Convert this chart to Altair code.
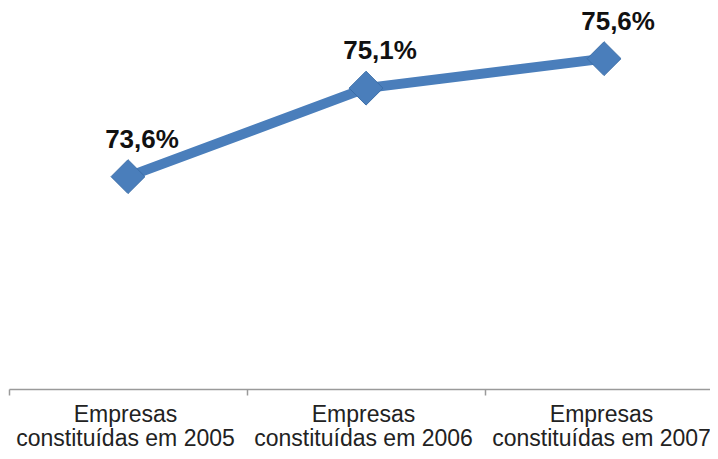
import altair as alt
import pandas as pd

categories = ["Empresas constituídas em 2005", "Empresas constituídas em 2006", "Empresas constituídas em 2007"]
values = [73.6, 75.1, 75.6]
labels = ["73,6%", "75,1%", "75,6%"]

df = pd.DataFrame({"idx": list(range(len(categories))), "cat": categories, "val": values, "lab": labels})

second_lines = [c.replace("Empresas ", "") for c in categories]
arr = "[" + ",".join("'" + s + "'" for s in second_lines) + "]"
label_expr = f"datum.value % 1 === 0 ? ['Empresas', {arr}[datum.value]] : ''"

tick_vals = [-0.5, 0, 0.5, 1, 1.5, 2, 2.5]

x = alt.X(
    "idx:Q",
    title=None,
    scale=alt.Scale(domain=[-0.5, 2.445], nice=False, zero=False),
    axis=alt.Axis(
        values=tick_vals,
        labelAngle=0,
        labelFont="Liberation Sans",
        labelFontSize=23,
        labelColor="#222222",
        labelLineHeight=24,
        labelPadding=8,
        labelOffset=-3,
        labelLimit=0,
        labelOverlap=False,
        labelBound=False,
        labelFlush=False,
        labelExpr=label_expr,
        tickSize=6,
        tickColor="#9a9a9a",
        tickOpacity={"condition": {"test": "datum.value % 1 === 0", "value": 0}, "value": 1},
        domainColor="#9a9a9a",
        domainWidth=1.5,
        tickWidth=1.5,
        grid=False,
    ),
)
y = alt.Y("val:Q", scale=alt.Scale(domain=[70, 76.34], nice=False, zero=False), axis=None)

base = alt.Chart(df).encode(x=x, y=y)

line = base.mark_line(color="#4a7ebb", strokeWidth=10)
pts = base.mark_point(shape="diamond", filled=True, size=1150, fill="#4a7ebb", stroke="#3b6ea8", strokeWidth=1, opacity=1)
txt = base.mark_text(font="Liberation Sans", fontSize=26, fontWeight="bold", color="#111111", dy=-37, dx=14, baseline="middle").encode(text="lab:N")

chart = (line + pts + txt).properties(
    width=701,
    height=374,
    autosize=alt.AutoSizeParams(type="none"),
    padding={"left": 1, "top": 7, "right": 0, "bottom": 62},
).configure_view(stroke=None)

chart.save("out.html", embed_options={"renderer": "svg", "actions": False})
